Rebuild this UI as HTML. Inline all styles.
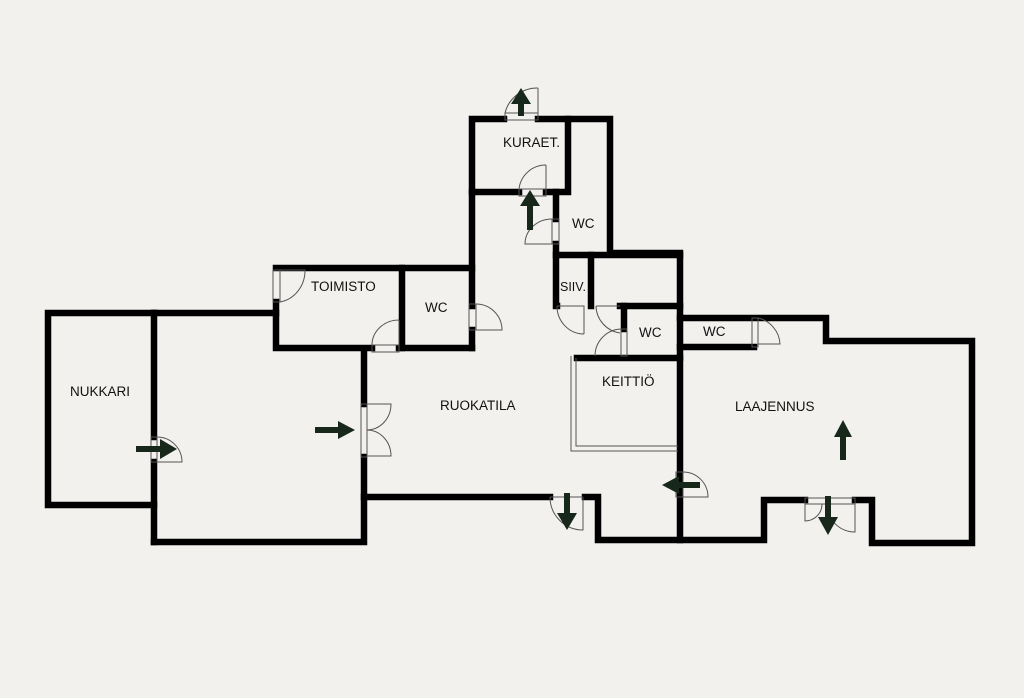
<!DOCTYPE html>
<html><head><meta charset="utf-8"><style>
html,body{margin:0;padding:0;background:#f2f1ee;}
svg{display:block}
text{font-family:"Liberation Sans",sans-serif;font-size:13.5px;fill:#111}
</style></head><body>
<svg width="1024" height="698" viewBox="0 0 1024 698" xmlns="http://www.w3.org/2000/svg">
<rect width="1024" height="698" fill="#f2f1ee"/>
<g stroke="#000" stroke-width="6.5" fill="none" stroke-linecap="square">
<polyline points="154,313 48,313 48,505 154,505"/>
<line x1="154" y1="313" x2="154" y2="437"/>
<line x1="154" y1="462" x2="154" y2="542"/>
<polyline points="154,313 276,313"/>
<polyline points="154,542 364,542 364,457"/>
<line x1="364" y1="404" x2="364" y2="350"/>
<polyline points="276,302 276,348 372,348"/>
<polyline points="276,268 472,268"/>
<line x1="399" y1="348" x2="472" y2="348"/>
<line x1="402" y1="268" x2="402" y2="348"/>
<line x1="472" y1="330" x2="472" y2="348"/>
<polyline points="472,306 472,119 504,119"/>
<polyline points="538,119 610,119 610,253 680,253 680,540"/>
<polyline points="568,119 568,192 546,192"/>
<line x1="472" y1="192" x2="519" y2="192"/>
<line x1="556" y1="192" x2="556" y2="219"/>
<polyline points="556,244 556,306 557,306"/>
<line x1="556" y1="255" x2="680" y2="255"/>
<line x1="591" y1="255" x2="591" y2="306"/>
<line x1="620" y1="306" x2="680" y2="306"/>
<line x1="624" y1="306" x2="624" y2="329"/>
<line x1="577" y1="358" x2="680" y2="358"/>
<polyline points="680,318 826,318 826,341 972,341 972,543 872,543 872,500 855,500"/>
<line x1="680" y1="347" x2="754" y2="347"/>
<polyline points="805,500 764,500 764,540 598,540 598,497 585,497"/>
<line x1="550" y1="497" x2="364" y2="497"/>
</g>
<g stroke="#555" stroke-width="1" fill="none">
<polyline points="576,358 576,446 678,446"/>
<polyline points="571,356 571,451 678,451"/>
<rect x="505" y="113" width="33" height="7"/><path d="M538,88 L538,113 M505,113 A33,33 0 0 1 538,88"/>
<rect x="519" y="189" width="27" height="7"/><path d="M546,165 L546,189 M519,189 A27,27 0 0 1 546,165"/>
<rect x="552" y="219" width="7" height="25"/><path d="M552,244 L525,244 A27,25 0 0 1 552,219"/>
<rect x="273" y="270" width="7" height="32"/><path d="M280,270 L305,270 A30,32 0 0 1 280,302"/>
<rect x="372" y="345" width="27" height="7"/><path d="M399,320 L399,345 M372,345 A27,25 0 0 1 399,320"/>
<rect x="469" y="304" width="7" height="26"/><path d="M476,304 A26,26 0 0 1 502,330 L476,330"/>
<path d="M557,306 L584,306 L584,334 M557,306 A27,28 0 0 0 584,334"/>
<path d="M596,306 L620,306 M596,306 A28,28 0 0 0 620,333"/>
<rect x="621" y="329" width="6" height="27"/><path d="M595,356 A27,27 0 0 1 621,329"/>
<rect x="752" y="318" width="6" height="29"/><path d="M758,318 A28,28 0 0 1 780,344 L758,344"/>
<rect x="361" y="404" width="6" height="53"/>
<path d="M367,404 L391,404 A24,26 0 0 1 367,430 A24,26 0 0 1 391,456 L367,456"/>
<rect x="151" y="437" width="6" height="25"/><path d="M157,437 A25,25 0 0 1 182,462 L157,462"/>
<path d="M550,497 L583,497 M550,497 A33,33 0 0 0 583,530 L583,497"/>
<rect x="676" y="472" width="7" height="25"/><path d="M683,472 A25,25 0 0 1 708,497 L683,497"/>
<rect x="805" y="498" width="50" height="6"/>
<path d="M805,504 L805,521 A17,17 0 0 0 822,504 M855,504 L855,532 A28,28 0 0 1 827,504"/>
</g>
<g fill="#17281b">
<path d="M518,116 L518,104 L511,104 L521,88 L531,104 L524,104 L524,116 Z"/>
<path d="M527,230 L527,206 L520,206 L530,190 L540,206 L533,206 L533,230 Z"/>
<path d="M136,446 L160,446 L160,439 L177,449 L160,459 L160,452 L136,452 Z"/>
<path d="M315,427 L338,427 L338,421 L355,430 L338,439 L338,433 L315,433 Z"/>
<path d="M564,493 L570,493 L570,513 L577,513 L567,530 L557,513 L564,513 Z"/>
<path d="M700,482 L700,488 L679,488 L679,494 L662,485 L679,476 L679,482 Z"/>
<path d="M840,460 L846,460 L846,437 L852,437 L843,420 L834,437 L840,437 Z"/>
<path d="M825,496 L831,496 L831,517 L838,517 L828,535 L818,517 L825,517 Z"/>
</g>
<g>
<text x="503" y="147">KURAET.</text>
<text x="572" y="228">WC</text>
<text x="311" y="291">TOIMISTO</text>
<text x="425" y="312">WC</text>
<text x="560" y="291" style="font-size:12.5px">SIIV.</text>
<text x="639" y="337">WC</text>
<text x="703" y="336">WC</text>
<text x="602" y="386">KEITTIÖ</text>
<text x="735" y="411">LAAJENNUS</text>
<text x="440" y="410">RUOKATILA</text>
<text x="70" y="396">NUKKARI</text>
</g>
</svg>
</body></html>
